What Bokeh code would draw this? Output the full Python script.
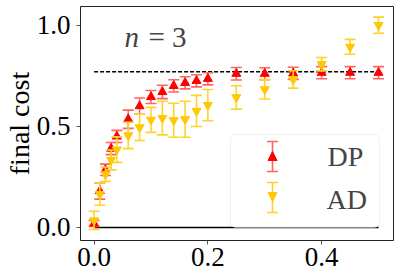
import numpy as np
from bokeh.plotting import figure
from bokeh.models import (Range1d, FixedTicker, PrintfTickFormatter, Label,
                          BoxAnnotation, Arrow, NormalHead, TeeHead)
from bokeh.embed import file_html
from bokeh.resources import INLINE

# ---------------- data ----------------
eps = [0.0, 0.01, 0.02, 0.03, 0.04, 0.06, 0.08, 0.10, 0.12, 0.14, 0.16, 0.18,
       0.20, 0.25, 0.30, 0.35, 0.40, 0.45, 0.50]
dp_mean = [0.02, 0.18, 0.285, 0.39, 0.45, 0.535, 0.60, 0.645, 0.67, 0.70, 0.715,
           0.725, 0.735, 0.76, 0.76, 0.762, 0.765, 0.765, 0.765]
dp_err = [0.015, 0.04, 0.028, 0.03, 0.03, 0.045, 0.04, 0.032, 0.033, 0.03, 0.03,
          0.03, 0.03, 0.031, 0.03, 0.03, 0.03, 0.03, 0.03]
ad_mean = [0.035, 0.165, 0.263, 0.334, 0.385, 0.455, 0.495, 0.532, 0.541, 0.53,
           0.535, 0.576, 0.605, 0.643, 0.683, 0.732, 0.807, 0.893, 1.0]
ad_err = [0.045, 0.055, 0.036, 0.049, 0.063, 0.065, 0.065, 0.062, 0.083, 0.084,
          0.089, 0.077, 0.077, 0.058, 0.048, 0.043, 0.033, 0.037, 0.04]
ref_x = [0.0, 0.5]
optimal_cost = [0.77, 0.77]
zero_cost = [0.0, 0.0]
x_ticks = [0.0, 0.2, 0.4]
y_ticks = [0.0, 0.5, 1.0]
series_names = ["DP", "AD"]

SERIF = "Liberation Serif"
DP_COLOR = "#ff0000"
DP_BAR = "#ff6464"
AD_COLOR = "#ffc800"
AD_BAR = "#ffd42a"

dp_lo = [m - e for m, e in zip(dp_mean, dp_err)]
dp_hi = [m + e for m, e in zip(dp_mean, dp_err)]
ad_lo = [m - e for m, e in zip(ad_mean, ad_err)]
ad_hi = [m + e for m, e in zip(ad_mean, ad_err)]

p = figure(width=399, height=280, output_backend="svg", toolbar_location=None,
           x_range=Range1d(-0.0239, 0.5263), y_range=Range1d(-0.0643, 1.0924),
           min_border_left=78, min_border_right=6, min_border_top=6,
           min_border_bottom=40)
p.xgrid.visible = False
p.ygrid.visible = False
p.outline_line_color = "#222222"
p.outline_line_width = 1
p.background_fill_color = "white"

for ax in (p.xaxis[0], p.yaxis[0]):
    ax.axis_line_color = None
    ax.major_tick_out = 4
    ax.major_tick_in = 0
    ax.minor_tick_out = 0
    ax.minor_tick_in = 0
    ax.major_tick_line_color = "#555555"
    ax.major_label_text_font = SERIF
    ax.major_label_text_font_size = "27px"
    ax.major_label_text_color = "black"
    ax.formatter = PrintfTickFormatter(format="%.1f")
p.xaxis.ticker = FixedTicker(ticks=x_ticks)
p.yaxis.ticker = FixedTicker(ticks=y_ticks)
p.xaxis.major_label_standoff = 3
p.yaxis.major_label_standoff = 6

p.yaxis.axis_label = "final cost"
p.yaxis.axis_label_text_font = SERIF
p.yaxis.axis_label_text_font_size = "28px"
p.yaxis.axis_label_text_font_style = "normal"
p.yaxis.axis_label_text_color = "black"
p.yaxis.axis_label_standoff = -1

# reference lines
p.line(ref_x, optimal_cost, line_color="black", line_width=1.5, line_dash="4 2")
p.line(ref_x, zero_cost, line_color="black", line_width=1.5)

# DP
p.segment(x0=eps, y0=dp_lo, x1=eps, y1=dp_hi, line_color=DP_BAR, line_width=1.6)
p.scatter(eps, dp_lo, marker="dash", size=11, line_color=DP_BAR, line_width=1.6)
p.scatter(eps, dp_hi, marker="dash", size=11, line_color=DP_BAR, line_width=1.6)
p.scatter(eps, dp_mean, marker="triangle", size=9, fill_color=DP_COLOR,
          line_color=DP_COLOR)
# AD
p.segment(x0=eps, y0=ad_lo, x1=eps, y1=ad_hi, line_color=AD_BAR, line_width=1.6)
p.scatter(eps, ad_lo, marker="dash", size=11, line_color=AD_BAR, line_width=1.6)
p.scatter(eps, ad_hi, marker="dash", size=11, line_color=AD_BAR, line_width=1.6)
p.scatter(eps, ad_mean, marker="inverted_triangle", size=9, fill_color=AD_COLOR,
          line_color=AD_COLOR)

# legend (screen units, relative to the frame's bottom-left corner)
box = BoxAnnotation(left=150, right=299, top=106, bottom=13,
                    left_units="screen", right_units="screen",
                    top_units="screen", bottom_units="screen",
                    fill_color="white", fill_alpha=0.85,
                    line_color="#cccccc", line_width=1, border_radius=5)
p.add_layout(box)

p.add_layout(Arrow(x_start=192, y_start=69, x_end=192, y_end=99,
                   start_units="screen", end_units="screen",
                   start=TeeHead(size=11, line_color=DP_BAR, line_width=1.6),
                   end=TeeHead(size=11, line_color=DP_BAR, line_width=1.6),
                   line_color=DP_BAR, line_width=1.6))
p.add_layout(Arrow(x_start=192, y_start=80, x_end=192, y_end=89,
                   start_units="screen", end_units="screen", start=None,
                   end=NormalHead(size=9, fill_color=DP_COLOR, line_color=DP_COLOR),
                   line_alpha=0))
p.add_layout(Arrow(x_start=192, y_start=28, x_end=192, y_end=58,
                   start_units="screen", end_units="screen",
                   start=TeeHead(size=11, line_color=AD_BAR, line_width=1.6),
                   end=TeeHead(size=11, line_color=AD_BAR, line_width=1.6),
                   line_color=AD_BAR, line_width=1.6))
p.add_layout(Arrow(x_start=192, y_start=48, x_end=192, y_end=39,
                   start_units="screen", end_units="screen", start=None,
                   end=NormalHead(size=9, fill_color=AD_COLOR, line_color=AD_COLOR),
                   line_alpha=0))

p.add_layout(Label(x=247, y=84, x_units="screen", y_units="screen",
                   text=series_names[0], text_font=SERIF, text_font_size="28px",
                   text_baseline="alphabetic", text_align="left"))
p.add_layout(Label(x=246, y=41, x_units="screen", y_units="screen",
                   text=series_names[1], text_font=SERIF, text_font_size="28px",
                   text_baseline="alphabetic", text_align="left"))

# annotation n = 3
p.add_layout(Label(x=44, y=204, x_units="screen", y_units="screen",
                   text="n", text_font=SERIF, text_font_style="italic",
                   text_font_size="29px", text_baseline="alphabetic"))
p.add_layout(Label(x=68, y=204, x_units="screen", y_units="screen",
                   text="= 3", text_font=SERIF, text_font_size="29px",
                   text_baseline="alphabetic"))

open("out.html", "w").write(file_html(p, INLINE))
